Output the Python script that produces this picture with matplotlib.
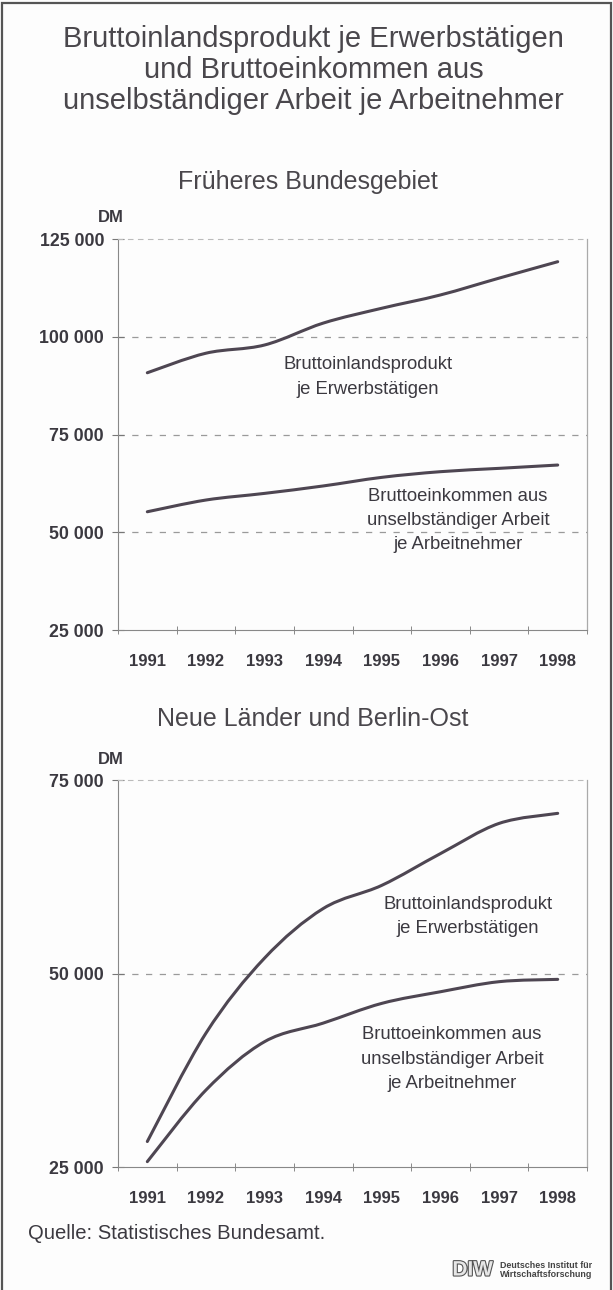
"""DIW chart: BIP je Erwerbstaetigen und Bruttoeinkommen je Arbeitnehmer, 1991-1998."""
import numpy as np
import matplotlib; matplotlib.use('Agg')
import matplotlib.pyplot as plt
from matplotlib.path import Path
from matplotlib.patches import PathPatch, Rectangle
import matplotlib.patheffects as pe

plt.rcParams['font.family'] = ['Liberation Sans', 'DejaVu Sans']

years = ['1991', '1992', '1993', '1994', '1995', '1996', '1997', '1998']

# Frueheres Bundesgebiet (DM)
west_bip = [90800, 95800, 97900, 103500, 107300, 110700, 115000, 119200]
west_bek = [55250, 58250, 59950, 61850, 64050, 65500, 66350, 67200]
west_yticks = [25000, 50000, 75000, 100000, 125000]
west_ylabels = ['25 000', '50 000', '75 000', '100 000', '125 000']

# Neue Laender und Berlin-Ost (DM)
ost_bip = [28300, 42300, 52000, 58400, 61400, 65500, 69400, 70700]
ost_bek = [25700, 34950, 41200, 43600, 46150, 47650, 48950, 49250]
ost_yticks = [25000, 50000, 75000]
ost_ylabels = ['25 000', '50 000', '75 000']

LINE = '#4e4652'
TXT = '#3b3940'
GRID = '#9a9a9a'
ANN = 'Bruttoinlandsprodukt\nje Erwerbstätigen'
ANN2 = 'Bruttoeinkommen aus\nunselbständiger Arbeit\nje Arbeitnehmer'


def smooth_path(xs, ys):
    # Catmull-Rom through the data points, drawn as cubic Bezier segments
    pts = np.column_stack([xs, ys]).astype(float)
    n = len(pts)
    verts, codes = [pts[0]], [Path.MOVETO]
    for i in range(n - 1):
        p0 = pts[i - 1] if i > 0 else pts[i]
        p1, p2 = pts[i], pts[i + 1]
        p3 = pts[i + 2] if i + 2 < n else pts[i + 1]
        verts += [p1 + (p2 - p0) / 6, p2 - (p3 - p1) / 6, p2]
        codes += [Path.CURVE4] * 3
    return Path(verts, codes)


def panel(ax, bip, bek, yticks, ylabels):
    x = np.arange(len(years))
    for s in (bip, bek):
        ax.add_patch(PathPatch(smooth_path(x, s), fill=False, edgecolor=LINE,
                               lw=2.2, capstyle='round'))
    ax.set_xlim(-0.5, len(years) - 0.5)
    ax.set_ylim(yticks[0], yticks[-1])
    ax.set_xticks(x)
    ax.set_xticklabels(years, fontsize=12, fontweight='bold', color=TXT)
    ax.set_xticks(np.arange(len(years) + 1) - 0.5, minor=True)
    ax.tick_params(axis='x', which='major', length=0, pad=17)
    ax.tick_params(axis='x', which='minor', direction='inout', length=6, color='#777')
    ax.set_yticks(yticks)
    ax.set_yticklabels(ylabels, fontsize=12.8, fontweight='bold', color=TXT)
    ax.tick_params(axis='y', direction='inout', length=8, pad=6, color='#777')
    for v in yticks[1:-1]:
        ax.axhline(v, color=GRID, lw=0.9, ls=(0, (5, 6)), zorder=0)
    ax.spines['left'].set_color('#888')
    ax.spines['bottom'].set_color('#888')
    ax.spines['right'].set_color('#aaa')
    ax.spines['right'].set_linewidth(0.9)
    ax.spines['top'].set_color('#bbb')
    ax.spines['top'].set_linestyle((0, (4, 5)))
    ax.spines['top'].set_linewidth(0.8)
    ax.text(-0.015, 1.035, 'DM', transform=ax.transAxes, ha='center', va='bottom',
            fontsize=12, fontweight='bold', color=TXT)
    ax.set_facecolor('none')


fig = plt.figure(figsize=(6.13, 12.9), dpi=100, facecolor='#fdfdfd')

fig.text(0.512, 0.981, 'Bruttoinlandsprodukt je Erwerbstätigen\nund Bruttoeinkommen aus\n'
         'unselbständiger Arbeit je Arbeitnehmer', ha='center', va='top',
         fontsize=21, color='#4a474c', linespacing=1.14)

ax1 = fig.add_axes([0.1925, 0.5116, 0.7651, 0.3031])
panel(ax1, west_bip, west_bek, west_yticks, west_ylabels)
fig.text(0.503, 0.859, 'Früheres Bundesgebiet', ha='center', va='center',
         fontsize=18, color='#4a474c')
ax1.text(3.76, 89700, ANN, ha='center', va='center', fontsize=13.3, color=TXT, linespacing=1.55)
ax1.text(5.3, 53100, ANN2, ha='center', va='center', fontsize=13.3, color=TXT, linespacing=1.55)

ax2 = fig.add_axes([0.1925, 0.0953, 0.7651, 0.3])
panel(ax2, ost_bip, ost_bek, ost_yticks, ost_ylabels)
fig.text(0.51, 0.443, 'Neue Länder und Berlin-Ost', ha='center', va='center',
         fontsize=18, color='#4a474c')
ax2.text(5.47, 57400, ANN, ha='center', va='center', fontsize=13.3, color=TXT, linespacing=1.55)
ax2.text(5.2, 38950, ANN2, ha='center', va='center', fontsize=13.3, color=TXT, linespacing=1.55)

fig.text(0.046, 0.044, 'Quelle: Statistisches Bundesamt.', ha='left', va='center',
         fontsize=14.6, color=TXT)

# DIW logo
fig.text(0.738, 0.0155, 'DIW', ha='left', va='center', fontsize=15, fontweight='bold',
         color='#e6e6e6', path_effects=[pe.withStroke(linewidth=1.6, foreground='#555')])
fig.text(0.815, 0.0155, 'Deutsches Institut für\nWirtschaftsforschung', ha='left', va='center',
         fontsize=6.4, fontweight='bold', color='#444', linespacing=1.0)

fig.add_artist(Rectangle((0.003, -0.01), 0.994, 1.008, transform=fig.transFigure,
                         fill=False, edgecolor='#555', lw=1.6))

fig.savefig('out.png', dpi=100, facecolor=fig.get_facecolor())
